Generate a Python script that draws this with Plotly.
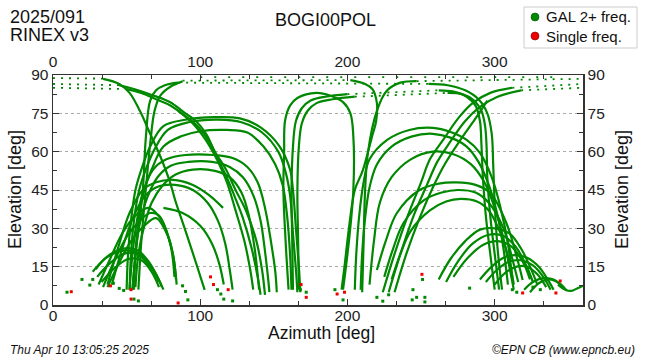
import plotly.graph_objects as go

# ---------------- data (azimuth deg / elevation deg) ----------------
# left-side arcs
a1_az = [27, 35, 45, 55, 63, 70, 74]; a1_el = [13, 18, 21, 21, 18, 12, 7]
a2_az = [30, 38, 48, 57, 66, 72]; a2_el = [11, 16, 20, 20, 15, 9]
a3_az = [33, 41, 51, 60, 67, 72]; a3_el = [9, 14, 18, 17.5, 13, 7]
a4_az = [29, 37, 47, 57, 65, 71, 75]; a4_el = [14, 19, 22, 21.5, 17, 11, 6]
b1_az = [34, 41, 50, 59, 66, 72, 77, 81.5, 83.5]; b1_el = [7, 16.4, 26.6, 33, 36, 35, 29, 20, 10]
b2_az = [37, 44, 53, 62, 70, 78, 82, 84]; b2_el = [7, 15.5, 25, 31, 34, 27, 18, 8]
b3_az = [31, 38, 47, 56, 65, 74, 80, 82.5]; b3_el = [8, 17, 28, 35, 38, 33, 23, 11]
c1_az = [37, 44, 52, 61, 70, 81.5, 95, 106, 115.5]; c1_el = [8, 22, 36, 45, 48, 49, 47, 43, 38]
c2_az = [40, 47, 55, 63, 72, 83, 95, 105, 112, 117, 120, 122]; c2_el = [8, 22, 35, 43, 46.5, 47, 45, 40, 33, 24, 14, 6]
c3_az = [75, 88, 100, 108, 113, 116]; c3_el = [38, 36, 31, 24, 16, 8]
d1_az = [52, 54, 57, 61, 68, 77, 90, 109, 122, 132, 139, 144, 148, 151, 152]
d1_el = [6, 20, 33, 44, 53, 57, 58.7, 58.7, 57.5, 54, 48, 38, 25, 13, 5]
d2_az = [54, 56, 59, 64, 71, 80, 92, 108, 120, 129, 136, 141, 144, 146, 147]
d2_el = [6, 20, 32, 42, 50, 54.5, 56, 56, 54, 50, 43, 33, 21, 11, 5]
d3_az = [56, 58, 62, 67, 74, 83, 95, 110, 120, 128, 133, 137, 139, 140]
d3_el = [7, 20, 31, 40, 46.5, 51, 53, 52.5, 50, 44, 35, 22, 12, 6]
e1_az = [50, 51, 53, 56, 60, 66, 75, 90, 110, 127, 141, 154, 161, 163, 165, 167, 168]
e1_el = [6, 20, 33, 45, 53, 62, 70, 72.5, 73.5, 73, 69.5, 62, 53, 45, 30, 15, 5]
e2_az = [52, 53, 55, 58.5, 63, 69, 78, 92, 112, 128, 142, 153, 158, 161, 163, 165, 166]
e2_el = [6, 20, 33, 45, 53, 61, 68.5, 71.5, 72.5, 71.5, 67.5, 60, 52, 43, 28, 14, 5]
e3_az = [55, 56, 58, 62, 67, 75, 87, 100, 118, 132, 143, 151, 156, 159, 161, 162]
e3_el = [6, 20, 33, 45, 53, 62, 66, 68, 68.5, 67.5, 62, 55, 47, 35, 20, 6]
# steep tracks from the zenith region
t1_az = [34, 45, 52, 59, 66, 73, 79.5, 83, 90, 96.5, 103]
t1_el = [88.5, 86.5, 83, 76, 67, 58, 48, 41, 29, 17.6, 5.9]
t1d_az = [0, 34]; t1d_el = [88.8, 88.6]
t2_az = [45, 55, 68, 79, 90, 97, 104, 110, 117.5, 124, 131, 138, 142, 144]
t2_el = [86, 84.5, 82, 79.5, 75, 72, 67, 60, 53, 45, 37, 25.4, 13.7, 4]
t2d_az = [0, 45]; t2d_el = [86.5, 86]
t2b_az = [50, 60, 70, 80, 92, 99, 106, 112, 118, 123, 129, 135, 139, 141]
t2b_el = [84.5, 83, 80.5, 78, 73, 69.5, 64, 57, 50, 43, 34, 22, 11, 4]
t2bd_az = [0, 50]; t2bd_el = [85, 84.5]
t3_az = [85, 95, 106.6, 117.5, 124, 130, 134, 136]; t3_el = [76, 71, 62, 49, 37, 25, 13.7, 6]
t4a_az = [54, 57, 61, 63, 66, 70, 76, 85]; t4a_el = [6, 25, 45, 65, 80, 84, 86, 87]
t4d_az = [85, 255]; t4d_el = [87, 86.5]
t4b_az = [255, 268, 280, 289, 295, 298, 299, 300, 302, 305]
t4b_el = [86.5, 86, 84, 80.5, 75, 67, 55, 40, 22, 6]
t5a_az = [58, 60, 63, 66, 69, 73, 80, 88]; t5a_el = [6, 25, 45, 63, 76, 82, 85.5, 87.5]
t5d_az = [88, 202]; t5d_el = [87.8, 88]
t5b_az = [202, 212, 217, 220, 219.5, 216.6, 210.5, 205, 201, 198, 196]
t5b_el = [88, 86.5, 84.5, 79, 72, 65.7, 52.8, 45, 30, 15, 6]
z1d_az = [100, 345]; z1d_el = [89.2, 89.2]
# middle inverted-U tracks
u1_az = [160, 158, 156.5, 157, 157.6, 161, 166, 179, 188, 197, 202, 204, 204, 201, 197]
u1_el = [6, 25, 45, 60, 72, 78, 81, 83, 82, 79.4, 75, 66, 45, 25, 6]
u2a_az = [163, 162.5, 162, 163, 165, 169, 175, 185, 200]; u2a_el = [6, 25, 45, 62, 72, 77, 80, 81.5, 82.5]
u2d_az = [200, 262]; u2d_el = [82.5, 84]
u2b_az = [262, 272, 281, 287, 290, 291, 292, 294, 297, 300]; u2b_el = [84, 83.5, 81.5, 78, 72, 63, 50, 35, 20, 6]
u3a_az = [167, 166.5, 166, 167, 169, 173, 179, 190, 205]; u3a_el = [6, 25, 45, 62, 71, 76, 79, 80.5, 81.5]
u3d_az = [205, 268]; u3d_el = [81.5, 83]
u3b_az = [268, 278, 286, 291, 293.5, 294.5, 295, 297, 300, 303]; u3b_el = [83, 82.5, 80, 76, 70, 62, 50, 35, 20, 6]
v2_az = [210, 211, 212, 214, 220, 227, 236, 247]; v2_el = [5, 25, 45, 60, 76, 84, 87, 87.6]
v2d_az = [247, 360]; v2d_el = [87.6, 88.5]
# rising tracks toward the upper right
r1_az = [224, 232, 241, 250, 256, 265, 276, 285, 297, 312]; r1_el = [5, 20, 35, 48, 57, 64.6, 73.6, 79, 83, 85]
r1d_az = [312, 360]; r1d_el = [85, 86.5]
r2_az = [228, 236, 245, 254, 261, 270, 280, 290, 302, 318]; r2_el = [5, 20, 35, 47, 56, 64, 72, 77.5, 81.5, 84]
r2d_az = [318, 360]; r2d_el = [84, 85]
r3_az = [232, 240, 249, 258, 266, 276, 287, 295]; r3_el = [5, 20, 34, 46, 55, 64, 73, 80]
# right-side arcs
f1_az = [205, 206, 208, 211, 215, 227, 242, 258, 270, 281, 290, 298, 304, 309, 312]
f1_el = [6, 20, 35, 48, 57, 64.6, 68.5, 69.3, 67.7, 64.6, 59.5, 50, 38, 24, 10]
f2_az = [209, 210, 212, 215, 220, 230, 244, 258, 270, 281, 289, 296, 302, 306, 309]
f2_el = [6, 20, 34, 46, 55, 62, 66, 67, 65.5, 62, 56, 47, 35, 22, 8]
f3_az = [215, 218, 222, 230, 243, 258, 272, 284, 293, 300, 306, 310, 313]
f3_el = [8, 25, 40, 50, 57, 60, 59, 55, 48, 38, 26, 15, 6]
g1_az = [220, 226, 233.6, 249, 262, 274, 287, 297, 308, 315, 319]
g1_el = [13.7, 25, 36, 45, 47.5, 48, 47, 43.8, 32, 18.8, 9.8]
g2_az = [225, 231, 238, 252, 264, 275, 287, 296, 306, 312, 316]; g2_el = [11, 22, 32, 41, 44, 45, 44, 40, 30, 18, 9]
g3_az = [230, 236, 243, 256, 267, 277, 288, 296, 304, 310, 313]; g3_el = [10, 20, 29, 37, 40.5, 41.5, 40.5, 37, 28, 17, 8]
h1_az = [262, 270, 280, 290, 300, 310, 318, 324, 329]; h1_el = [10, 18, 25, 29.5, 30, 28, 22, 15, 8]
h2_az = [267, 275, 285, 296, 306, 314, 321, 326]; h2_el = [9, 17, 24, 27.5, 27, 23, 16, 9]
h3_az = [272, 281, 292, 302, 311, 319, 324]; h3_el = [11, 18, 23.5, 25, 23, 17, 10]
i1_az = [290, 298, 306, 314, 322, 330, 336, 340]; i1_el = [10, 15, 18.5, 19.5, 18.5, 15, 10, 6]
i2_az = [294, 302, 310, 318, 326, 333, 338]; i2_el = [9, 14, 17, 17.5, 15.5, 11, 6]
i3_az = [300, 307, 315, 322, 329, 335]; i3_el = [8, 12.5, 15, 15, 12, 7]
j1_az = [320, 326, 333, 340, 346]; j1_el = [6, 9, 10.5, 10, 7]
j2_az = [324, 330, 337, 344, 349]; j2_el = [5, 8.5, 10, 8.5, 5.5]
k1_az = [343, 348, 352, 356, 360]; k1_el = [8, 6, 5.5, 6.5, 7.5]
# isolated low-elevation observations
gdot_az = [9.5, 19.7, 25, 27, 41, 45, 48, 55, 58, 88, 90, 91.6, 111.7, 114, 116, 122,
           168, 172, 191.5, 197, 220, 224, 228, 244.5, 244, 247, 252.6, 252.6, 251, 283, 312, 315, 326, 331]
gdot_el = [5, 10, 7.8, 10, 8.5, 6.5, 5.7, 2.3, 1.6, 7.5, 5.3, 2, 6, 4.3, 2.3, 1.6,
           6, 5, 6, 2, 3, 1.5, 4, 6, 2, 3, 3, 1.2, 10, 6.6, 6, 5, 7, 6]
rdot_az = [12.4, 39, 53, 53, 85, 107, 109, 119, 168.5, 172, 193, 198, 250.6, 319, 341.6, 344.5]
rdot_el = [5.2, 7.5, 6, 2.3, 0.8, 11, 8, 6, 8, 3, 4.3, 5, 12, 4.7, 4.7, 9.4]

legend_names = ["GAL 2+ freq.", "Single freq."]
az_ticks = [0, 100, 200, 300]
el_ticks = [0, 15, 30, 45, 60, 75, 90]

solid_tracks = [
    (a1_az, a1_el), (a2_az, a2_el), (a3_az, a3_el), (a4_az, a4_el),
    (b1_az, b1_el), (b2_az, b2_el), (b3_az, b3_el),
    (c1_az, c1_el), (c2_az, c2_el), (c3_az, c3_el),
    (d1_az, d1_el), (d2_az, d2_el), (d3_az, d3_el),
    (e1_az, e1_el), (e2_az, e2_el), (e3_az, e3_el),
    (t1_az, t1_el), (t2_az, t2_el), (t2b_az, t2b_el), (t3_az, t3_el),
    (t4a_az, t4a_el), (t4b_az, t4b_el), (t5a_az, t5a_el), (t5b_az, t5b_el),
    (u1_az, u1_el), (u2a_az, u2a_el), (u2b_az, u2b_el), (u3a_az, u3a_el), (u3b_az, u3b_el),
    (v2_az, v2_el), (r1_az, r1_el), (r2_az, r2_el), (r3_az, r3_el),
    (f1_az, f1_el), (f2_az, f2_el), (f3_az, f3_el),
    (g1_az, g1_el), (g2_az, g2_el), (g3_az, g3_el),
    (h1_az, h1_el), (h2_az, h2_el), (h3_az, h3_el),
    (i1_az, i1_el), (i2_az, i2_el), (i3_az, i3_el),
    (j1_az, j1_el), (j2_az, j2_el), (k1_az, k1_el),
]
dotted_tracks = [
    (t1d_az, t1d_el), (t2d_az, t2d_el), (t2bd_az, t2bd_el), (t4d_az, t4d_el), (t5d_az, t5d_el),
    (u2d_az, u2d_el), (u3d_az, u3d_el), (v2d_az, v2d_el),
    (r1d_az, r1d_el), (r2d_az, r2d_el),
]
sparse_dotted_tracks = [(z1d_az, z1d_el)]

GREEN = "#008800"
RED = "#ee0000"
FONT = "Liberation Sans, Arial, Helvetica, sans-serif"

fig = go.Figure()
for az, el in dotted_tracks:
    fig.add_trace(go.Scatter(x=az, y=el, mode="lines", showlegend=False, hoverinfo="skip",
                             line=dict(color=GREEN, width=1.8, dash="2px,6px")))
for az, el in sparse_dotted_tracks:
    fig.add_trace(go.Scatter(x=az, y=el, mode="lines", showlegend=False, hoverinfo="skip",
                             line=dict(color=GREEN, width=1.8, dash="2px,12px")))
for az, el in solid_tracks:
    fig.add_trace(go.Scatter(x=az, y=el, mode="lines", showlegend=False, hoverinfo="skip",
                             line=dict(color=GREEN, width=2.2, shape="spline", smoothing=1.0)))
fig.add_trace(go.Scatter(x=gdot_az, y=gdot_el, mode="markers", showlegend=False, hoverinfo="skip",
                         marker=dict(color=GREEN, size=3, symbol="square")))
fig.add_trace(go.Scatter(x=rdot_az, y=rdot_el, mode="markers", showlegend=False, hoverinfo="skip",
                         marker=dict(color=RED, size=3, symbol="square")))
# empty trace so that the top/right mirror axes are drawn
fig.add_trace(go.Scatter(x=[None], y=[None], mode="markers", showlegend=False, xaxis="x2", yaxis="y2"))

W, H = 650, 360
L, R, T, B = 53, 583, 75, 305
def px(x):
    return (x - L) / (R - L)
def py(y):
    return (B - y) / (B - T)

axis_common = dict(
    ticks="inside", ticklen=6, tickwidth=1, tickcolor="#333",
    showline=True, linecolor="#333", linewidth=1.5,
    tickfont=dict(family=FONT, size=15.5, color="#222"),
    zeroline=False, fixedrange=True, automargin=False,
)
fig.update_layout(
    width=W, height=H, autosize=False,
    margin=dict(l=L, r=W - R, t=T, b=H - B, pad=0, autoexpand=False),
    paper_bgcolor="white", plot_bgcolor="white",
    xaxis=dict(range=[0, 360], tickvals=az_ticks, showgrid=False, ticklabelstandoff=-4,
               minor=dict(dtick=100 / 3, tick0=0, ticks="inside", ticklen=4, tickcolor="#333"),
               **axis_common),
    xaxis2=dict(range=[0, 360], tickvals=az_ticks, showgrid=False, overlaying="x", side="top",
                minor=dict(dtick=100 / 3, tick0=0, ticks="inside", ticklen=4, tickcolor="#333"),
                **axis_common),
    yaxis=dict(range=[0, 90], tickvals=el_ticks, showgrid=True, gridcolor="#aaaaaa",
               griddash="dot", gridwidth=1,
               minor=dict(dtick=7.5, tick0=0, ticks="inside", ticklen=4, tickcolor="#333", showgrid=False),
               **axis_common),
    yaxis2=dict(range=[0, 90], tickvals=el_ticks, showgrid=False, overlaying="y", side="right",
                minor=dict(dtick=7.5, tick0=0, ticks="inside", ticklen=4, tickcolor="#333"),
                **axis_common),
    showlegend=False,
    hovermode=False,
)

# legend box drawn by hand (symbol + text), top right
shapes = [
    dict(type="rect", x0=px(524), x1=px(637), y0=py(48), y1=py(7),
         line=dict(color="#cccccc", width=1), fillcolor="white"),
    dict(type="circle", x0=px(531), x1=px(539), y0=py(21), y1=py(13),
         line=dict(color="#005500", width=0.6), fillcolor=GREEN),
    dict(type="circle", x0=px(531), x1=px(539), y0=py(40), y1=py(32),
         line=dict(color="#770000", width=0.6), fillcolor=RED),
]
for s in shapes:
    s.update(xref="paper", yref="paper", layer="above")
fig.update_layout(shapes=shapes)

ann = [
    dict(text=legend_names[0], x=px(544), y=py(17), xanchor="left", yanchor="middle",
         font=dict(family=FONT, size=15, color="#111")),
    dict(text=legend_names[1], x=px(544), y=py(36), xanchor="left", yanchor="middle",
         font=dict(family=FONT, size=15, color="#111")),
    dict(text="2025/091", x=px(8), y=py(17), xanchor="left", yanchor="middle",
         font=dict(family=FONT, size=18, color="#111")),
    dict(text="RINEX v3", x=px(8), y=py(35), xanchor="left", yanchor="middle",
         font=dict(family=FONT, size=18, color="#111")),
    dict(text="BOGI00POL", x=px(325), y=py(20), xanchor="center", yanchor="middle",
         font=dict(family=FONT, size=18, color="#111")),
    dict(text="Azimuth [deg]", x=px(321), y=py(333), xanchor="center", yanchor="middle",
         font=dict(family=FONT, size=17.5, color="#111")),
    dict(text="Elevation [deg]", x=px(15), y=py(190), xanchor="center", yanchor="middle",
         textangle=-90, font=dict(family=FONT, size=18, color="#111")),
    dict(text="Elevation [deg]", x=px(622), y=py(190), xanchor="center", yanchor="middle",
         textangle=-90, font=dict(family=FONT, size=18, color="#111")),
    dict(text="<i>Thu Apr 10 13:05:25 2025</i>", x=px(8), y=py(350), xanchor="left", yanchor="middle",
         font=dict(family=FONT, size=12, color="#111")),
    dict(text="<i>©EPN CB (www.epncb.eu)</i>", x=px(637), y=py(350), xanchor="right", yanchor="middle",
         font=dict(family=FONT, size=12, color="#111")),
]
for a in ann:
    a.update(xref="paper", yref="paper", showarrow=False)
fig.update_layout(annotations=ann)

fig.write_html("out.html", config={"displayModeBar": False, "staticPlot": True},
               post_script="document.body.style.margin='0';document.body.style.overflow='hidden';")
